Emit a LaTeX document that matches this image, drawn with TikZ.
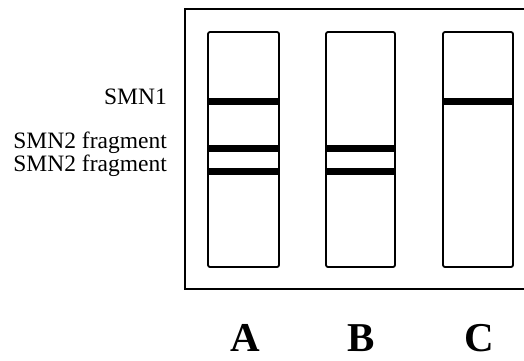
\documentclass[tikz,border=0pt]{standalone}
\usepackage{fontspec}
\setmainfont{Liberation Serif}
\begin{document}
\begin{tikzpicture}[x=1pt,y=-1pt,
  lane/.style={draw,line width=1.8pt,rounded corners=2pt},
  band/.style={line width=7pt},
  lbl/.style={anchor=base east,inner sep=0pt,font=\fontsize{23.5}{23.5}\selectfont},
  letter/.style={anchor=base,inner sep=0pt,font=\fontsize{41}{41}\selectfont\bfseries}]
\useasboundingbox (0,0) rectangle (524,360);
\clip (0,0) rectangle (524,360);
\draw[line width=1.8pt] (185,9) rectangle (540,289);
\foreach \n/\a/\b in {A/208/279,B/326/395,C/443/513}{
  \draw[lane] (\a,32) rectangle (\b,267);
}
\draw[band] (208,101) -- (279,101);
\draw[band] (208,148) -- (279,148);
\draw[band] (208,171) -- (279,171);
\draw[band] (326,148) -- (395,148);
\draw[band] (326,171) -- (395,171);
\draw[band] (443,101) -- (513,101);
\node[lbl] (smn1) at (167,104) {SMN1};
\node[lbl] (smn2a) at (167,148) {SMN2 fragment};
\node[lbl] (smn2b) at (167,171) {SMN2 fragment};
\node[letter] (la) at (245,351) {A};
\node[letter] (lb) at (361,351) {B};
\node[letter] (lc) at (479,351) {C};
\end{tikzpicture}
\end{document}
